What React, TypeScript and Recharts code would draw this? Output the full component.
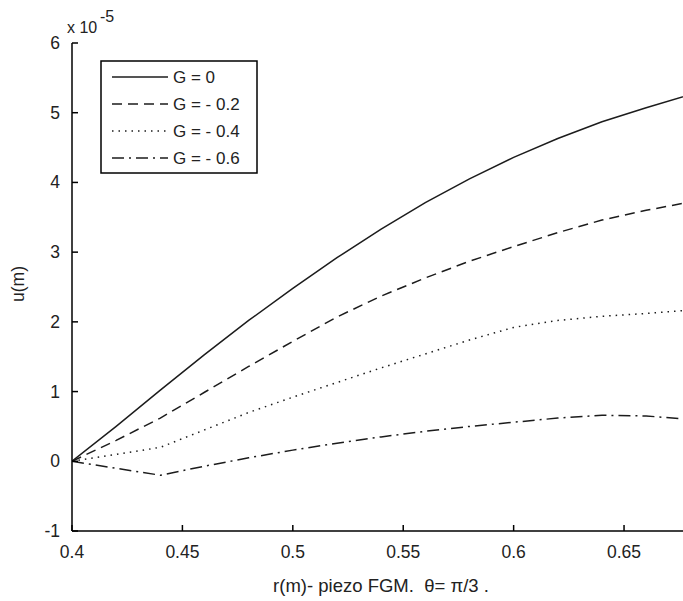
import React from 'react';
import { LineChart, Line, XAxis, YAxis, Legend, Customized } from 'recharts';

// radial coordinate r (m)
const rValues = [0.4, 0.42, 0.44, 0.46, 0.48, 0.5, 0.52, 0.54, 0.56, 0.58, 0.6, 0.62, 0.64, 0.66, 0.68];
// displacement u (m), in units of 1e-5
const uG0 = [0, 0.5, 1.02, 1.53, 2.02, 2.48, 2.92, 3.33, 3.71, 4.05, 4.36, 4.63, 4.87, 5.07, 5.26];
const uGm02 = [0, 0.3, 0.62, 0.99, 1.36, 1.72, 2.07, 2.37, 2.63, 2.87, 3.08, 3.28, 3.46, 3.6, 3.72];
const uGm04 = [0, 0.1, 0.2, 0.45, 0.7, 0.92, 1.13, 1.34, 1.54, 1.74, 1.92, 2.02, 2.08, 2.12, 2.17];
const uGm06 = [0, -0.1, -0.2, -0.07, 0.05, 0.16, 0.26, 0.35, 0.43, 0.5, 0.56, 0.62, 0.66, 0.65, 0.6];

const seriesNames = ['G = 0', 'G = - 0.2', 'G = - 0.4', 'G = - 0.6'];
const xTicks = [0.4, 0.45, 0.5, 0.55, 0.6, 0.65];
const yTicks = [-1, 0, 1, 2, 3, 4, 5, 6];
const xTitle = 'r(m)- piezo FGM.\u00A0\u00A0\u03B8= \u03C0/3 .';
const yTitle = 'u(m)';

const data = rValues.map((r, i) => ({
  r,
  g0: uG0[i],
  g2: uGm02[i],
  g4: uGm04[i],
  g6: uGm06[i],
}));

const FONT = '"Liberation Sans", Arial, Helvetica, sans-serif';
const INK = '#1c1c1c';

const series = [
  { key: 'g0', name: seriesNames[0], dash: undefined as string | undefined },
  { key: 'g2', name: seriesNames[1], dash: '10 6' },
  { key: 'g4', name: seriesNames[2], dash: '1.5 5' },
  { key: 'g6', name: seriesNames[3], dash: '12 5 2 5' },
];

const BottomTick = ({ x, y, payload }: any) => (
  <g>
    <line x1={x} y1={y} x2={x} y2={y - 6} stroke="#000" strokeWidth={1.5} />
    <text x={x} y={y + 27} textAnchor="middle" fontFamily={FONT} fontSize={17.5} fill="#222">
      {String(payload.value)}
    </text>
  </g>
);

const TopTick = ({ x, y }: any) => (
  <line x1={x} y1={y} x2={x} y2={y + 6} stroke="#000" strokeWidth={1.5} />
);

const LeftTick = ({ x, y, payload }: any) => (
  <g>
    <line x1={x} y1={y} x2={x + 6} y2={y} stroke="#000" strokeWidth={1.5} />
    <text x={x - 12} y={y + 6} textAnchor="end" fontFamily={FONT} fontSize={17.5} fill="#222">
      {String(payload.value)}
    </text>
  </g>
);

const LegendBox = () => (
  <svg width={158} height={114} style={{ display: 'block' }}>
    <rect x={1} y={1} width={156} height={112} fill="#fff" stroke="#000" strokeWidth={1.5} />
    {series.map((s, i) => {
      const cy = 17 + i * 27;
      return (
        <g key={s.key}>
          <line
            x1={12}
            y1={cy}
            x2={68}
            y2={cy}
            stroke={INK}
            strokeWidth={1.5}
            strokeDasharray={s.dash}
          />
          <text x={73} y={cy + 6} fontFamily={FONT} fontSize={17} fill="#222">
            {s.name}
          </text>
        </g>
      );
    })}
  </svg>
);

const Annotations = () => (
  <g fontFamily={FONT} fill="#222">
    <text x={67} y={33} fontSize={16}>x 10</text>
    <text x={100} y={22} fontSize={16}>-5</text>
    <text x={381} y={592} fontSize={18.5} textAnchor="middle" style={{ whiteSpace: 'pre' }}>
      {xTitle}
    </text>
    <text x={24} y={284} fontSize={17.5} textAnchor="middle" transform="rotate(-90 24 284)">
      {yTitle}
    </text>
  </g>
);

export default function App() {
  return (
    <div style={{ position: 'absolute', left: 0, top: 0, width: 683, height: 601, background: '#fff' }}>
      <LineChart
        width={683}
        height={601}
        data={data}
        margin={{ top: 43, right: 0, bottom: 0, left: 0 }}
      >
        <XAxis
          dataKey="r"
          type="number"
          domain={[0.4, 0.6767]}
          allowDataOverflow
          ticks={xTicks}
          interval={0}
          height={70}
          tickSize={0}
          tickMargin={0}
          tickLine={false}
          axisLine={{ stroke: '#000', strokeWidth: 1.5 }}
          tick={<BottomTick />}
        />
        <XAxis
          xAxisId="top"
          orientation="top"
          dataKey="r"
          type="number"
          domain={[0.4, 0.6767]}
          allowDataOverflow
          ticks={xTicks}
          interval={0}
          height={0}
          tickSize={0}
          tickMargin={0}
          tickLine={false}
          axisLine={{ stroke: '#000', strokeWidth: 1.5 }}
          tick={<TopTick />}
        />
        <YAxis
          type="number"
          domain={[-1, 6]}
          allowDataOverflow
          ticks={yTicks}
          interval={0}
          width={72}
          tickSize={0}
          tickMargin={0}
          tickLine={false}
          axisLine={{ stroke: '#000', strokeWidth: 1.5 }}
          tick={<LeftTick />}
        />
        {series.map((s) => (
          <Line
            key={s.key}
            dataKey={s.key}
            name={s.name}
            type="linear"
            stroke={INK}
            strokeWidth={1.5}
            strokeDasharray={s.dash}
            dot={false}
            activeDot={false}
            isAnimationActive={false}
          />
        ))}
        <Legend
          layout="vertical"
          align="center"
          verticalAlign="middle"
          wrapperStyle={{ position: 'absolute', left: 100, top: 60, width: 158, height: 114 }}
          content={() => <LegendBox />}
        />
        <Customized component={<Annotations />} />
      </LineChart>
    </div>
  );
}
